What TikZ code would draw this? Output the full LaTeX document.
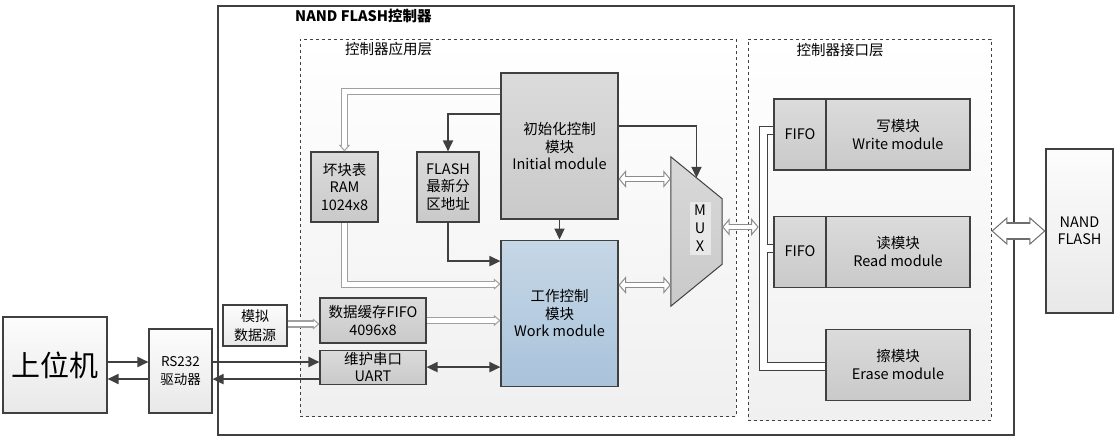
\documentclass[tikz,border=0pt]{standalone}
\usepackage{fontspec}
\setmainfont{Noto Sans CJK SC}
\usetikzlibrary{arrows.meta, positioning, calc}
\definecolor{edgegray}{HTML}{404040}
\definecolor{hollowgray}{HTML}{A0A0A0}
\definecolor{muxgray}{HTML}{8C8C8C}
\definecolor{biggray}{HTML}{6E6E6E}
\definecolor{bluetop}{HTML}{C6D7E6}
\definecolor{bluebot}{HTML}{A9C3DB}
\tikzset{
    ctrlframe/.style={
        rectangle,
        draw=edgegray,
        line width=1.1pt,
        fill=white
    },
    layer/.style={
        rectangle,
        draw=edgegray,
        dashed,
        line width=0.8pt,
        top color=white,
        bottom color=gray!12
    },
    layertitle/.style={
        inner sep=0pt,
        font=\fontsize{14.5}{17}\selectfont
    },
    module/.style={
        rectangle,
        draw=edgegray,
        line width=1.1pt,
        top color=gray!28,
        bottom color=gray!42,
        inner sep=0pt,
        align=center,
        font=\fontsize{14.5}{17.5}\selectfont
    },
    workbox/.style={
        module,
        top color=bluetop,
        bottom color=bluebot
    },
    plainbox/.style={
        module,
        top color=gray!2,
        bottom color=gray!18
    },
    muxbody/.style={
        draw=edgegray,
        line width=1pt,
        top color=gray!30,
        bottom color=gray!42
    },
    muxlabel/.style={
        fill=gray!18,
        inner sep=0pt,
        minimum width=21pt,
        minimum height=53pt,
        align=center,
        font=\fontsize{14.5}{18}\selectfont
    },
    wire/.style={
        draw=edgegray,
        line width=1.8pt,
        -{Triangle[length=11pt, width=10pt]}
    },
    wireboth/.style={
        wire,
        {Triangle[length=11pt, width=10pt]}-{Triangle[length=11pt, width=10pt]}
    },
    hollow/.style={
        draw=white,
        line width=4.8pt,
        shorten >=5pt,
        preaction={
            draw=hollowgray,
            line width=7.2pt,
            shorten >=0pt,
            -{Triangle[length=6.5pt, width=11pt, line width=1pt, fill=white]}
        }
    },
    muxlink/.style={
        draw=white,
        line width=4pt,
        shorten >=6pt,
        shorten <=6pt,
        preaction={
            draw=muxgray,
            line width=6.4pt,
            shorten >=0pt,
            shorten <=0pt,
            {Triangle[length=7.5pt, width=17.5pt, line width=1pt, fill=white]}-{Triangle[length=7.5pt, width=17.5pt, line width=1pt, fill=white]}
        }
    },
    flashlink/.style={
        draw=white,
        line width=14.8pt,
        shorten >=14.5pt,
        shorten <=14.5pt,
        preaction={
            draw=biggray,
            line width=17.4pt,
            shorten >=0pt,
            shorten <=0pt,
            {Triangle[length=16pt, width=28pt, line width=1pt, fill=white]}-{Triangle[length=16pt, width=28pt, line width=1pt, fill=white]}
        }
    },
    busouter/.style={
        draw=edgegray,
        line width=9pt
    },
    businner/.style={
        draw=white,
        line width=6.8pt
    }
}

\begin{document}
\begin{tikzpicture}[x=1pt, y=-1pt]
\useasboundingbox (0,0) rectangle (1118,441);

% Controller frame and layers
\node[ctrlframe, minimum width=796pt, minimum height=429pt] (ctrl) at (616,220.5) {};
\node[font=\bfseries\fontsize{14.5}{17}\selectfont, inner sep=0pt, anchor=west] (ctrltitle) at (295,16) {NAND FLASH控制器};
\node[layer, minimum width=436pt, minimum height=377pt] (applayer) at (518,227.5) {};
\node[layertitle, anchor=west] (apptitle) at (345,49) {控制器应用层};
\node[layer, minimum width=243pt, minimum height=381pt] (iflayer) at (869.5,229.5) {};
\node[layertitle] (iftitle) at (840,50) {控制器接口层};

% Application layer
\node[module, minimum width=117pt, minimum height=146pt] (initmod) at (559.5,146) {初始化控制\\模块\\Initial module};
\node[workbox, minimum width=117pt, minimum height=146pt, below=20pt of initmod] (workmod) {工作控制\\模块\\Work module};
\node[module, minimum width=67pt, minimum height=70pt] (ram) at (344.5,187) {坏块表\\RAM\\1024x8};
\node[module, minimum width=62pt, minimum height=70pt] (flashaddr) at (448,187) {FLASH\\最新分\\区地址};
\node[module, minimum width=106pt, minimum height=45pt] (fifo) at (373,320.5) {数据缓存FIFO\\4096x8};
\node[module, minimum width=106pt, minimum height=34pt, below=6pt of fifo] (uart) {维护串口\\UART};

% MUX
\node[minimum width=51pt, minimum height=149pt, inner sep=0pt] (mux) at (696.5,231.5) {};
\draw[muxbody] (mux.north west) -- ([yshift=-42pt]mux.north east) -- ([yshift=42pt]mux.south east) -- (mux.south west) -- cycle;
\node[muxlabel] (muxtext) at (700,228) {M\\U\\X};

% Interface layer
\node[module, minimum width=144pt, minimum height=71pt] (writemod) at (898,134.5) {写模块\\Write module};
\node[module, minimum width=52pt, minimum height=71pt, left=-1.1pt of writemod] (writefifo) {FIFO};
\node[module, minimum width=144pt, minimum height=71pt, below=45pt of writemod] (readmod) {读模块\\Read module};
\node[module, minimum width=52pt, minimum height=71pt, left=-1.1pt of readmod] (readfifo) {FIFO};
\node[module, minimum width=144pt, minimum height=71pt, below=41pt of readmod] (erasemod) {擦模块\\Erase module};

% Outside the controller
\node[plainbox, minimum width=104pt, minimum height=96pt, font=\fontsize{29}{34}\selectfont] (host) at (55,365) {上位机};
\node[plainbox, minimum width=63pt, minimum height=84pt, font=\fontsize{13.5}{18}\selectfont] (rs232) at (180.5,371) {RS232\\驱动器};
\node[plainbox, minimum width=64pt, minimum height=41pt, font=\fontsize{14}{19}\selectfont] (simsrc) at (255,325.5) {模拟\\数据源};
\node[plainbox, minimum width=67pt, minimum height=164pt, font=\fontsize{14.5}{16.5}\selectfont] (nand) at (1079.5,231) {NAND\\FLASH};

% Control wires
\draw[wire] ([yshift=32pt]initmod.west) -| (flashaddr.north);
\draw[wire] (flashaddr.south) |- ([yshift=52pt]workmod.west);
\draw[wire] (initmod.south) -- (workmod.north);
\coordinate (muxtop) at ($(mux.north west)!0.5!([yshift=-42pt]mux.north east)$);
\draw[wire] ([yshift=20pt]initmod.east) -| (muxtop);
\draw[wire] ([yshift=3pt]host.east) -- ([yshift=3pt]host.east -| rs232.west);
\draw[wire] ([yshift=-8pt]rs232.west) -- ([yshift=-8pt]rs232.west -| host.east);
\draw[wire] ([yshift=9pt]rs232.east) -- ([yshift=9pt]rs232.east -| uart.west);
\draw[wire] ([yshift=-12pt]uart.west) -- ([yshift=-12pt]uart.west -| rs232.east);
\draw[wireboth] (uart.east) -- (uart.east -| workmod.west);

% Data paths
\draw[hollow] ([yshift=54.5pt]initmod.west) -| (ram.north);
\draw[hollow] (ram.south) |- ([yshift=29pt]workmod.west);
\draw[hollow] ([yshift=1.5pt]simsrc.east) -- ([yshift=1.5pt]simsrc.east -| fifo.west);
\draw[hollow] (fifo.east) -- (fifo.east -| workmod.west);
\draw[muxlink] ([yshift=-33pt]initmod.east) -- ([yshift=-33pt]initmod.east -| mux.west);
\draw[muxlink] ([yshift=28pt]workmod.east) -- ([yshift=28pt]workmod.east -| mux.west);

% Interface bus
\coordinate (bus) at ([xshift=41pt, yshift=4.5pt]mux.east);
\draw[busouter] ([yshift=4pt]writefifo.west) -| (bus) |- ([yshift=-1.5pt]erasemod.west);
\draw[busouter] ([yshift=3pt]readfifo.west) -- ([yshift=3pt]readfifo.west -| bus);
\draw[businner] ([yshift=4pt]writefifo.west) -| (bus) |- ([yshift=-1.5pt]erasemod.west);
\draw[businner] ([yshift=3pt]readfifo.west) -- ([yshift=3pt]readfifo.west -| bus);
\draw[muxlink] ([yshift=4.5pt]mux.east) -- ([xshift=-4.5pt]bus);
\draw[flashlink] (iflayer.east |- nand.west) -- (nand.west);

\end{tikzpicture}
\end{document}
